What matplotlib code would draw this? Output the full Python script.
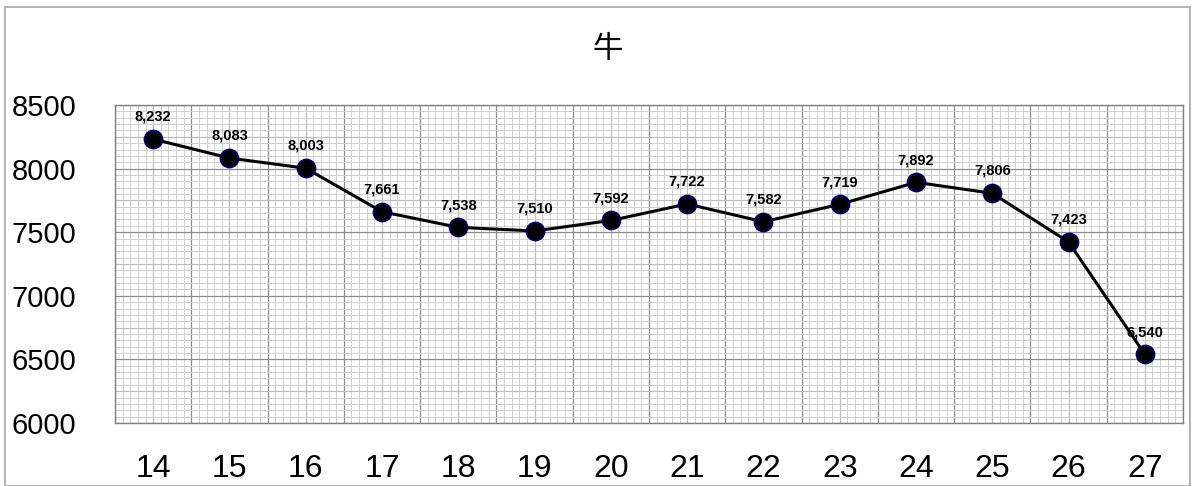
import matplotlib
matplotlib.use("Agg")
import matplotlib.pyplot as plt
from matplotlib.ticker import MultipleLocator
from matplotlib.patches import Rectangle
import numpy as np

plt.rcParams['font.family'] = ['Noto Sans CJK JP', 'DejaVu Sans']

years = ["14", "15", "16", "17", "18", "19", "20", "21", "22", "23", "24", "25", "26", "27"]
values = [8232, 8083, 8003, 7661, 7538, 7510, 7592, 7722, 7582, 7719, 7892, 7806, 7423, 6540]
title = "牛"

fig = plt.figure(figsize=(11.94, 4.86), dpi=100)
ax = fig.add_axes([115 / 1194, 1 - 423 / 486, 1068 / 1194, 318 / 486])

# figure frame
fig.patches.append(Rectangle((5 / 1194, 0), 1185 / 1194, 1 - 7 / 486, transform=fig.transFigure,
                             fill=False, edgecolor="#a6a6a6", lw=1.2))

x = np.arange(len(years))
ax.set_xlim(-0.5, len(years) - 0.5)
ax.set_ylim(6000, 8500)

# graph paper grid
for v in np.arange(-0.5, len(years) - 0.4, 0.1):
    k = int(round((v + 0.5) * 10))
    if k % 10 == 0:
        c, w = "#8c8c8c", 0.9
    elif k % 5 == 0:
        c, w = "#bdbdbd", 0.9
    else:
        c, w = "#d0d0d0", 0.7
    ax.axvline(v, color=c, lw=w, zorder=0)
for v in np.arange(6000, 8501, 50):
    if v % 500 == 0:
        c, w = "#8c8c8c", 0.9
    elif v % 250 == 0:
        c, w = "#bdbdbd", 0.9
    else:
        c, w = "#d0d0d0", 0.7
    ax.axhline(v, color=c, lw=w, zorder=0)

ax.plot(x, values, "-", color="black", lw=2.2, zorder=3)
ax.scatter(x, values, s=170, color="black", edgecolors="#00007a", linewidths=1.2, zorder=4)
for xi, v in zip(x, values):
    ax.annotate(f"{v:,}", (xi, v), xytext=(0, 11), textcoords="offset points",
                ha="center", va="bottom", fontsize=10.5, fontweight="bold",
                family=["Liberation Sans"], zorder=5)

ax.set_xticks(x)
ax.set_xticklabels(years)
ax.yaxis.set_major_locator(MultipleLocator(500))
ax.tick_params(axis="x", length=0, pad=22, labelsize=23)
ax.tick_params(axis="y", length=0, pad=28, labelsize=21)
for lab in ax.get_xticklabels() + ax.get_yticklabels():
    lab.set_family(["Liberation Sans"])

for s in ax.spines.values():
    s.set_color("#808080")
    s.set_linewidth(1.0)

fig.text(608 / 1194, 1 - 50 / 486, title, ha="center", va="center", fontsize=22)

fig.savefig("out.png", dpi=100)
